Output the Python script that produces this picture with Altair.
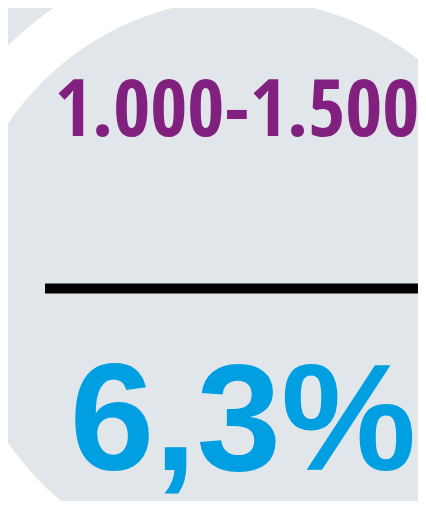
import altair as alt
import pandas as pd

# Infographic content
range_label = ["1.000-1.500"]
share_label = ["6,3%"]

df = pd.DataFrame({"range": range_label, "share": share_label})

GRAY = "#e1e6eb"
PURPLE = "#82207f"
BLUE = "#009fe2"

base = alt.Chart(df)

outer_ring = base.mark_arc(
    theta=0, theta2=6.2832, radius=334, radius2=0, fill="white", stroke=None
).encode(x=alt.value(235), y=alt.value(275))

inner_disc = base.mark_arc(
    theta=0, theta2=6.2832, radius=284, radius2=0, fill=GRAY, stroke=None
).encode(x=alt.value(235), y=alt.value(275))

range_text = base.mark_text(
    font="Open Sans Condensed, Roboto Condensed, sans-serif",
    fontWeight="bold",
    fontSize=80,
    color=PURPLE,
    align="center",
    baseline="alphabetic",
).encode(text="range:N", x=alt.value(229), y=alt.value(128))

divider = base.mark_rule(color="black", strokeWidth=10).encode(
    x=alt.value(37), x2=alt.value(420), y=alt.value(280.5)
)

share_text = base.mark_text(
    font="Liberation Sans, Arial, sans-serif",
    fontWeight="bold",
    fontSize=152,
    color=BLUE,
    align="center",
    baseline="alphabetic",
).encode(text="share:N", x=alt.value(235), y=alt.value(462))

chart = (
    alt.layer(outer_ring, inner_disc, range_text, divider, share_text)
    .properties(width=410, height=493, background=GRAY, padding=0,
                autosize=alt.AutoSizeParams(type="none"))
    .configure_view(stroke=None)
)

chart.save("out.html", embed_options={"renderer": "svg", "actions": False})
